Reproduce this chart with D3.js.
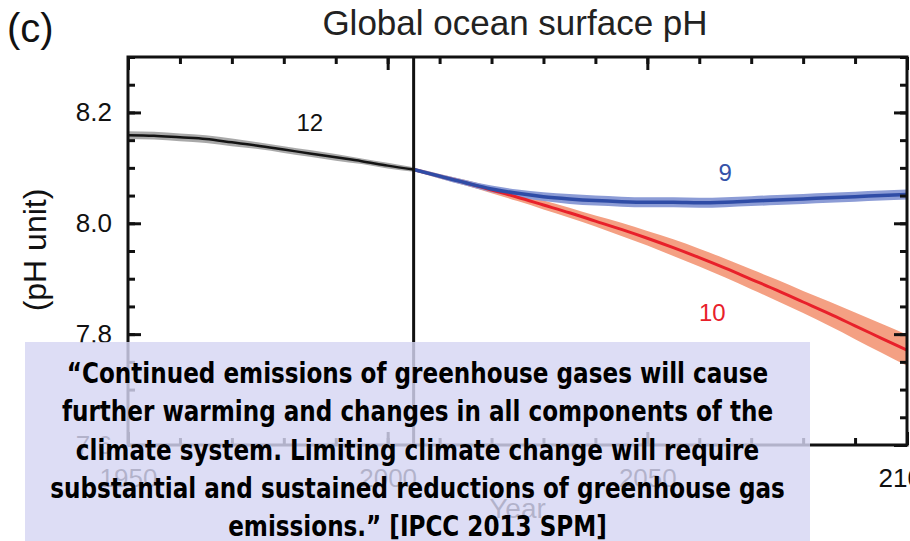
<!DOCTYPE html>
<html>
<head>
<meta charset="utf-8">
<script src="https://cdn.jsdelivr.net/npm/d3@7"></script>
<style>
  body { margin: 0; background: #fff; }
  svg { display: block; }
</style>
</head>
<body>
<svg id="chart" width="910" height="541"></svg>
<script>
// values
const histYears = [1950, 1955, 1960, 1965, 1970, 1975, 1980, 1985, 1990, 1995, 2000, 2005];
const histPH    = [8.159, 8.158, 8.155, 8.152, 8.146, 8.140, 8.133, 8.126, 8.119, 8.112, 8.104, 8.097];
const histSpread = [0.007, 0.007, 0.007, 0.007, 0.007, 0.006, 0.006, 0.006, 0.006, 0.005, 0.005, 0.004];

const projYears = [2005, 2010, 2015, 2020, 2025, 2030, 2035, 2040, 2045, 2050, 2055,
                   2060, 2065, 2070, 2075, 2080, 2085, 2090, 2095, 2100];
const rcp26PH = [8.097, 8.085, 8.073, 8.062, 8.054, 8.048, 8.044, 8.041, 8.039, 8.038, 8.038,
                 8.037, 8.038, 8.040, 8.042, 8.044, 8.046, 8.048, 8.050, 8.052];
const rcp26Spread = [0.003, 0.004, 0.005, 0.006, 0.007, 0.008, 0.009, 0.009, 0.009, 0.009, 0.009,
                     0.009, 0.009, 0.009, 0.009, 0.009, 0.009, 0.009, 0.009, 0.009];
const rcp85PH = [8.097, 8.085, 8.073, 8.060, 8.047, 8.033, 8.019, 8.004, 7.989, 7.973, 7.956,
                 7.938, 7.919, 7.899, 7.879, 7.858, 7.837, 7.815, 7.793, 7.771];
const rcp85Spread = [0.003, 0.004, 0.005, 0.006, 0.007, 0.008, 0.009, 0.010, 0.012, 0.013, 0.015,
                     0.016, 0.017, 0.018, 0.019, 0.020, 0.022, 0.024, 0.026, 0.028];

const yMajorTicks = [7.6, 7.8, 8.0, 8.2];
const xMajorTicks = [1950, 2000, 2050, 2100];
const seriesLabels = [
    {text: '12', year: 1985, ph: 8.182, color: '#111'},
    {text: '9', year: 2065, ph: 8.092, color: '#3552a8'},
    {text: '10', year: 2062.5, ph: 7.838, color: '#e8202a'}
];
const quoteLines = [
    '\u201CContinued emissions of greenhouse gases will cause',
    'further warming and changes in all components of the',
    'climate system. Limiting climate change will require',
    'substantial and sustained reductions of greenhouse gas',
    'emissions.\u201D [IPCC 2013 SPM]'
];

const svg = d3.select('#chart');
const font = "'Liberation Sans', Arial, sans-serif";
const margin = {top: 57, left: 128, right: 3, bottom: 96};
const W = 910, H = 541;

const x = d3.scaleLinear().domain([1950, 2100]).range([margin.left, W - margin.right]);
const y = d3.scaleLinear().domain([7.6, 8.3]).range([H - margin.bottom, margin.top]);

function rows(years, vals, spread){
    return years.map((yr, i) => ({year: yr, v: vals[i], s: spread[i]}));
}
const hist = rows(histYears, histPH, histSpread);
const rcp26 = rows(projYears, rcp26PH, rcp26Spread);
const rcp85 = rows(projYears, rcp85PH, rcp85Spread);

const area = d3.area()
    .x(d => x(d.year))
    .y0(d => y(d.v - d.s))
    .y1(d => y(d.v + d.s))
    .curve(d3.curveMonotoneX);
const line = d3.line()
    .x(d => x(d.year))
    .y(d => y(d.v))
    .curve(d3.curveMonotoneX);

// title + panel letter
svg.append('text').attr('x', 7).attr('y', 42)
    .attr('font-family', font).attr('font-size', 40).attr('fill', '#111').text('(c)');
svg.append('text').attr('x', 515).attr('y', 35).attr('text-anchor', 'middle')
    .attr('font-family', font).attr('font-size', 35).attr('fill', '#222')
    .text('Global ocean surface pH');

// bands then lines
const plot = svg.append('g');
plot.append('path').datum(hist).attr('d', area).attr('fill', '#9a9a9a').attr('opacity', 0.85);
plot.append('path').datum(rcp85).attr('d', area).attr('fill', '#f4a083');
plot.append('path').datum(rcp26).attr('d', area).attr('fill', '#8c9cd6');
plot.append('path').datum(hist).attr('d', line)
    .attr('fill', 'none').attr('stroke', '#141414').attr('stroke-width', 2.5);
plot.append('path').datum(rcp85).attr('d', line)
    .attr('fill', 'none').attr('stroke', '#e8202a').attr('stroke-width', 3);
plot.append('path').datum(rcp26).attr('d', line)
    .attr('fill', 'none').attr('stroke', '#2f4ca6').attr('stroke-width', 3.5);

plot.selectAll('text.series')
    .data(seriesLabels)
    .enter()
    .append('text')
    .attr('class', 'series')
    .attr('x', d => x(d.year))
    .attr('y', d => y(d.ph))
    .attr('dy', '0.35em')
    .attr('text-anchor', 'middle')
    .attr('font-family', font)
    .attr('font-size', 24)
    .attr('fill', d => d.color)
    .text(d => d.text);

// axes: ticks point inward, minor and major
const minorY = d3.range(7.6, 8.3001, 0.05);
const minorX = d3.range(1950, 2100.1, 10);
function tickStyle(g){
    g.select('.domain').remove();
    g.selectAll('line').attr('stroke', '#111').attr('stroke-width', 3);
}
function axisPair(maker, scale, pos, minor, major, labels){
    svg.append('g').attr('transform', pos)
        .call(maker(scale).tickValues(minor).tickSize(-7).tickFormat(''))
        .call(tickStyle);
    let g = svg.append('g').attr('transform', pos)
        .call(maker(scale).tickValues(major).tickSize(-13)
            .tickFormat(labels ? labels : '').tickPadding(labels ? 16 : 0))
        .call(tickStyle);
    g.selectAll('text').attr('font-family', font).attr('font-size', 26).attr('fill', '#111');
    return g;
}
axisPair(d3.axisLeft, y, 'translate(' + margin.left + ',0)', minorY, yMajorTicks, d3.format('.1f'));
axisPair(d3.axisRight, y, 'translate(' + (W - margin.right) + ',0)', minorY, yMajorTicks, null);
axisPair(d3.axisTop, x, 'translate(0,' + margin.top + ')', minorX, xMajorTicks, null);
let xb = axisPair(d3.axisBottom, x, 'translate(0,' + (H - margin.bottom) + ')', minorX, xMajorTicks, d3.format('d'));
xb.selectAll('text').attr('dy', '0').attr('y', 42);

// frame and the 2005 divider
svg.append('rect')
    .attr('x', margin.left).attr('y', margin.top)
    .attr('width', W - margin.right - margin.left)
    .attr('height', H - margin.bottom - margin.top)
    .attr('fill', 'none').attr('stroke', '#111').attr('stroke-width', 3);
svg.append('line')
    .attr('x1', x(2005)).attr('x2', x(2005))
    .attr('y1', margin.top).attr('y2', H - margin.bottom)
    .attr('stroke', '#111').attr('stroke-width', 3);

// axis titles
svg.append('text')
    .attr('transform', 'translate(46,250) rotate(-90)')
    .attr('text-anchor', 'middle')
    .attr('font-family', font).attr('font-size', 32).attr('fill', '#111')
    .text('(pH unit)');
svg.append('text')
    .attr('x', (x(1950) + x(2100)) / 2).attr('y', 518)
    .attr('text-anchor', 'middle')
    .attr('font-family', font).attr('font-size', 28).attr('fill', '#111')
    .text('Year');

// quote box laid over the lower part of the chart
const box = {x: 25, y: 342, w: 785, h: 205};
svg.append('rect')
    .attr('x', box.x).attr('y', box.y).attr('width', box.w).attr('height', box.h)
    .attr('fill', 'rgb(213,213,243)').attr('opacity', 0.82);

const quote = svg.append('g');
const cx = box.x + box.w / 2;
let qt = quote.selectAll('text')
    .data(quoteLines)
    .enter()
    .append('text')
    .attr('x', 0)
    .attr('y', (d, i) => 383 + i * 38.3)
    .attr('text-anchor', 'middle')
    .attr('font-family', "'Liberation Sans Narrow', 'DejaVu Sans Condensed', 'Open Sans', sans-serif")
    .attr('font-weight', 'bold')
    .attr('font-size', 28)
    .attr('fill', '#000')
    .text(d => d);
// squeeze horizontally so the widest line matches the reference width
let widest = d3.max(qt.nodes(), n => n.getComputedTextLength());
let sx = 735 / widest;
quote.attr('transform', 'translate(' + cx + ',0) scale(' + sx + ',1)');
</script>
</body>
</html>
